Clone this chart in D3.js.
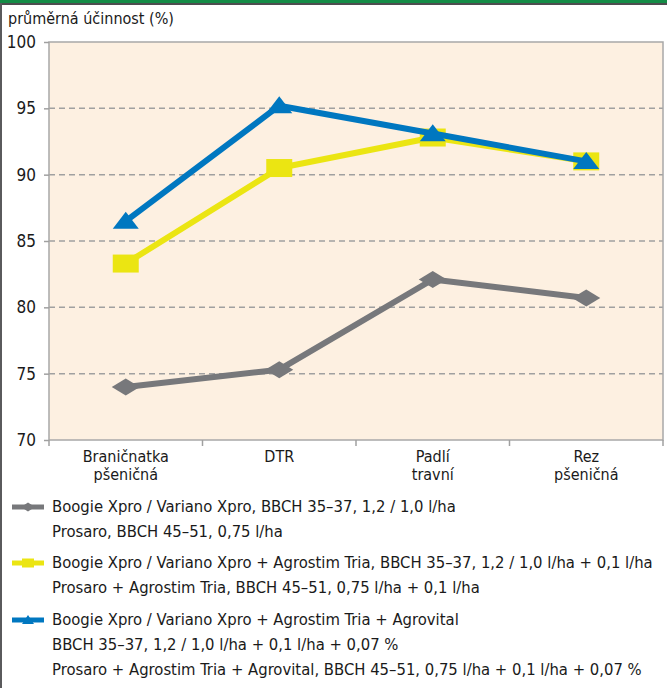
<!DOCTYPE html>
<html lang="cs">
<head>
    <meta charset="UTF-8">
    <title>průměrná účinnost</title>
    <script src="https://d3js.org/d3.v7.min.js"></script>
    <style>
        body { margin: 0; background: #fff; }
        text {
            font-family: 'Liberation Sans Narrow', 'DejaVu Sans Condensed', 'Roboto Condensed', 'Open Sans', sans-serif;
            fill: #1a1a1a;
        }
    </style>
</head>
<body>
<script>
    const width = 667;
    const height = 688;

    const categories = [["Braničnatka", "pšeničná"], ["DTR"], ["Padlí", "travní"], ["Rez", "pšeničná"]];
    const yTicks = [70, 75, 80, 85, 90, 95, 100];

    const grayValues = [74.0, 75.3, 82.1, 80.7];
    const yellowValues = [83.3, 90.5, 92.8, 91.0];
    const blueValues = [86.5, 95.2, 93.1, 91.0];

    const legendGray = ["Boogie Xpro / Variano Xpro, BBCH 35–37, 1,2  / 1,0 l/ha",
                        "Prosaro, BBCH 45–51, 0,75 l/ha"];
    const legendYellow = ["Boogie Xpro / Variano Xpro + Agrostim Tria, BBCH 35–37, 1,2 / 1,0 l/ha + 0,1 l/ha",
                          "Prosaro + Agrostim Tria, BBCH 45–51, 0,75 l/ha + 0,1 l/ha"];
    const legendBlue = ["Boogie Xpro / Variano Xpro + Agrostim Tria + Agrovital",
                        "BBCH 35–37, 1,2 / 1,0 l/ha + 0,1 l/ha + 0,07 %",
                        "Prosaro + Agrostim Tria + Agrovital, BBCH 45–51, 0,75 l/ha + 0,1 l/ha + 0,07 %"];

    const series = [
        {values: grayValues, color: "#77787b", shape: "diamond", legend: legendGray},
        {values: yellowValues, color: "#ebe512", shape: "square", legend: legendYellow},
        {values: blueValues, color: "#0077c0", shape: "triangle", legend: legendBlue}
    ];

    const plot = {left: 49, right: 663, top: 42, bottom: 440};

    const x = d3.scaleBand().domain(d3.range(categories.length)).range([plot.left, plot.right]);
    const y = d3.scaleLinear().domain([70, 100]).range([plot.bottom, plot.top]);

    const svg = d3.select("body").append("svg").attr("width", width).attr("height", height);

    // frame: green strip on top, dark rule, left border
    svg.append("rect").attr("x", 0).attr("y", 0).attr("width", width).attr("height", 3).attr("fill", "#148c46");
    svg.append("rect").attr("x", 0).attr("y", 3).attr("width", width).attr("height", 2).attr("fill", "#4d4d4f");
    svg.append("rect").attr("x", 0).attr("y", 3).attr("width", 2).attr("height", height).attr("fill", "#5a5a5c");

    svg.append("text")
        .attr("x", 8).attr("y", 24)
        .style("font-size", "16px")
        .text("průměrná účinnost (%)");

    svg.append("rect")
        .attr("x", plot.left).attr("y", plot.top)
        .attr("width", plot.right - plot.left).attr("height", plot.bottom - plot.top)
        .attr("fill", "#fdf0e1");

    // dashed grid
    svg.append("g").selectAll("line")
        .data(yTicks.filter(d => d > 70 && d < 100))
        .join("line")
        .attr("x1", plot.left).attr("x2", plot.right)
        .attr("y1", d => y(d)).attr("y2", d => y(d))
        .attr("stroke", "#a0a0a0").attr("stroke-width", 1.5)
        .attr("stroke-dasharray", "6,4");

    svg.append("rect")
        .attr("x", plot.left).attr("y", plot.top)
        .attr("width", plot.right - plot.left).attr("height", plot.bottom - plot.top)
        .attr("fill", "none").attr("stroke", "#a8a8a8").attr("stroke-width", 1.5);

    const yAxis = svg.append("g")
        .attr("transform", `translate(${plot.left},0)`)
        .call(d3.axisLeft(y).tickValues(yTicks).tickSize(5).tickPadding(8));
    yAxis.select(".domain").remove();
    yAxis.selectAll("line").attr("stroke", "#a0a0a0").attr("stroke-width", 1.5);
    yAxis.selectAll("text").style("font-size", "17px").attr("fill", "#1a1a1a")
        .style("font-family", "'Liberation Sans Narrow', 'DejaVu Sans Condensed', sans-serif");

    // x ticks at category boundaries
    const bounds = d3.range(categories.length + 1).map(i => plot.left + i * x.bandwidth());
    svg.append("g").selectAll("line")
        .data(bounds)
        .join("line")
        .attr("x1", d => d).attr("x2", d => d)
        .attr("y1", plot.bottom).attr("y2", plot.bottom + 6)
        .attr("stroke", "#a0a0a0").attr("stroke-width", 1.5);

    // category labels, one text per line
    const labelLines = categories.flatMap((c, i) => c.map((t, j) => ({t, i, j})));
    svg.append("g").selectAll("text")
        .data(labelLines)
        .join("text")
        .attr("text-anchor", "middle")
        .style("font-size", "16px")
        .attr("x", d => x(d.i) + x.bandwidth() / 2)
        .attr("y", d => 462 + d.j * 18)
        .text(d => d.t);

    function markerPath(shape, w, h) {
        const p = d3.path();
        if (shape === "diamond") {
            p.moveTo(-w / 2, 0); p.lineTo(0, -h / 2); p.lineTo(w / 2, 0); p.lineTo(0, h / 2);
        } else if (shape === "square") {
            p.rect(-w / 2, -h / 2, w, h);
        } else {
            p.moveTo(0, -h * 0.55); p.lineTo(w / 2, h * 0.45); p.lineTo(-w / 2, h * 0.45);
        }
        p.closePath();
        return p.toString();
    }

    const line = d3.line().x((d, i) => x(i) + x.bandwidth() / 2).y(d => y(d));

    series.forEach(s => {
        const g = svg.append("g");
        g.append("path")
            .attr("d", line(s.values))
            .attr("fill", "none")
            .attr("stroke", s.color)
            .attr("stroke-width", 6)
            .attr("stroke-linejoin", "round");
        g.selectAll("path.m")
            .data(s.values)
            .join("path")
            .attr("class", "m")
            .attr("d", markerPath(s.shape, s.shape === "diamond" ? 28 : 26, s.shape === "square" ? 18 : 17))
            .attr("transform", (d, i) => `translate(${x(i) + x.bandwidth() / 2},${y(d)})`)
            .attr("fill", s.color);
    });

    // legend
    const legendTop = [512, 568, 625];
    const lineGap = 25;
    const maxTextWidth = 604;
    series.forEach((s, k) => {
        const g = svg.append("g").attr("transform", `translate(0,${legendTop[k]})`);
        g.append("line")
            .attr("x1", 12).attr("x2", 44).attr("y1", -5).attr("y2", -5)
            .attr("stroke", s.color).attr("stroke-width", 5);
        g.append("path")
            .attr("d", markerPath(s.shape, s.shape === "diamond" ? 14 : 12, 9))
            .attr("transform", "translate(28,-5)")
            .attr("fill", s.color);
        g.selectAll("text")
            .data(s.legend)
            .join("text")
            .attr("x", 52)
            .attr("y", (d, i) => i * lineGap)
            .style("font-size", "16.5px")
            .text(d => d)
            .each(function () {
                if (this.getComputedTextLength() > maxTextWidth) {
                    d3.select(this).attr("textLength", maxTextWidth).attr("lengthAdjust", "spacingAndGlyphs");
                }
            });
    });
</script>
</body>
</html>
